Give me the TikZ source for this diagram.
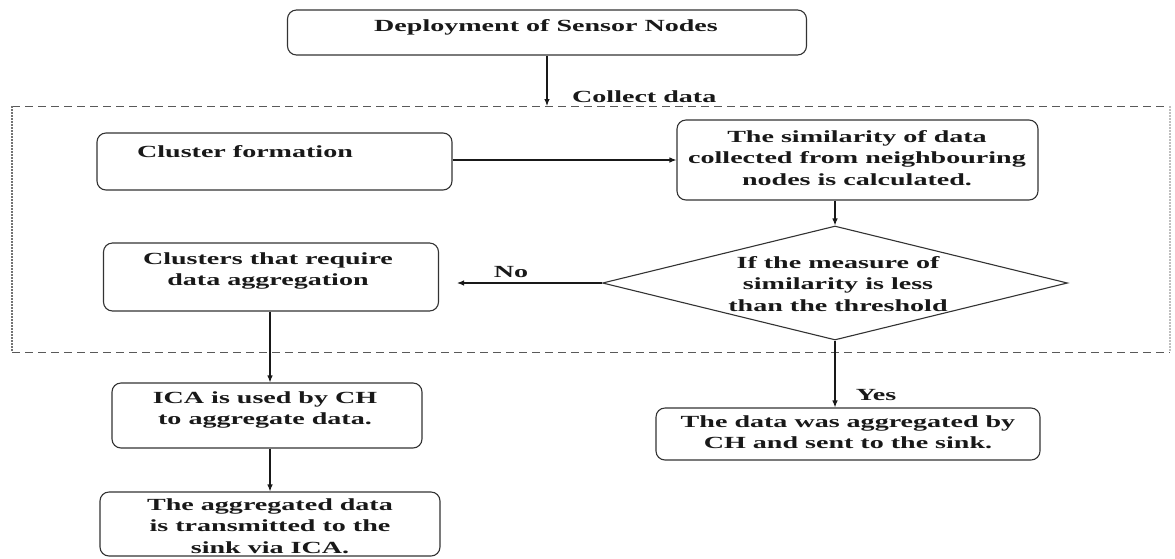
\documentclass[tikz,border=0pt]{standalone}
\usepackage{fontspec}
\setmainfont{Liberation Serif}[FakeStretch=1.65]
\usetikzlibrary{arrows.meta,shapes.geometric}
\tikzset{
  box/.style={draw=black!80, line width=1.1pt, rounded corners=9pt, inner sep=0pt, fill=white},
  dia/.style={draw=black!80, line width=1.1pt, diamond, aspect=4, inner sep=0pt},
  txt/.style={align=center, inner sep=0pt, font=\fontsize{17}{21.5}\selectfont\bfseries, text=black!90},
  arr/.style={-{Latex[length=7pt,width=5.5pt]}, line width=1.1pt, black!90},
  region/.style={draw=black!65, line width=1pt, dash pattern=on 8pt off 5pt},
  regionside/.style={draw=black!55, line width=1.3pt, dash pattern=on 1.5pt off 1.5pt}
}
\begin{document}
\begin{tikzpicture}[x=1pt,y=-1pt]
\useasboundingbox (0,0) rectangle (1175,558);
\fill[white] (0,0) rectangle (1175,558);
% dashed region
\coordinate (rtl) at (12,106);
\coordinate (rtr) at (1170,106);
\coordinate (rbl) at (12,352);
\coordinate (rbr) at (1170,352);
\draw[region] (rtl) -- (rtr);
\draw[region] (rbl) -- (rbr);
\draw[regionside] (rtl) -- (rbl);
\draw[regionside, draw=black!25] (rtr) -- (rbr);

% boxes
\node[box, minimum width=519pt, minimum height=45pt] (dep) at (547,32.5) {};
\node[txt] (tdep) at (546,27) {Deployment of Sensor Nodes};

\node[box, minimum width=355pt, minimum height=57pt] (clf) at (274.5,161.5) {};
\node[txt] (tclf) at (245,152) {Cluster formation};

\node[box, minimum width=361pt, minimum height=80pt] (sim) at (857.5,160) {};
\node[txt] (tsim) at (857,158) {The similarity of data\\collected from neighbouring\\nodes is calculated.};

\node[dia, minimum width=465pt, minimum height=114pt] (dm) at (835,283) {};
\node[txt] (tdm) at (838,284) {If the measure of\\similarity is less\\than the threshold};

\node[box, minimum width=335pt, minimum height=68pt] (clr) at (271,277) {};
\node[txt] (tclr) at (268,271) {Clusters that require\\data aggregation};

\node[box, minimum width=310pt, minimum height=65pt] (ica) at (267,415.5) {};
\node[txt] (tica) at (265,410) {ICA is used by CH\\to aggregate data.};

\node[box, minimum width=340pt, minimum height=64pt] (agg) at (270,524) {};
\node[txt] (tagg) at (270,526) {The aggregated data\\is transmitted to the\\sink via ICA.};

\node[box, minimum width=384pt, minimum height=52pt] (fin) at (848,434) {};
\node[txt] (tfin) at (848,432) {The data was aggregated by\\CH and sent to the sink.};

% connectors
\coordinate (regtop) at (547,106);
\draw[arr] (dep.south) -- (regtop);
\node[txt, anchor=west] (lcol) at (572,97) {Collect data};

\draw[arr] (sim.west -| clf.east) -- (sim.west);
\draw[arr] (dm.north |- sim.south) -- (dm.north);
\coordinate (noend) at (457,283);
\draw[arr] (dm.west) -- (noend);
\node[txt] (lno) at (511,272) {No};
\draw[arr] (clr.south -| 270,0) -- (ica.north -| 270,0);
\draw[arr] (ica.south -| 270,0) -- (agg.north -| 270,0);
\draw[arr] (dm.south) -- (dm.south |- fin.north);
\node[txt] (lyes) at (876,395) {Yes};
\end{tikzpicture}
\end{document}
